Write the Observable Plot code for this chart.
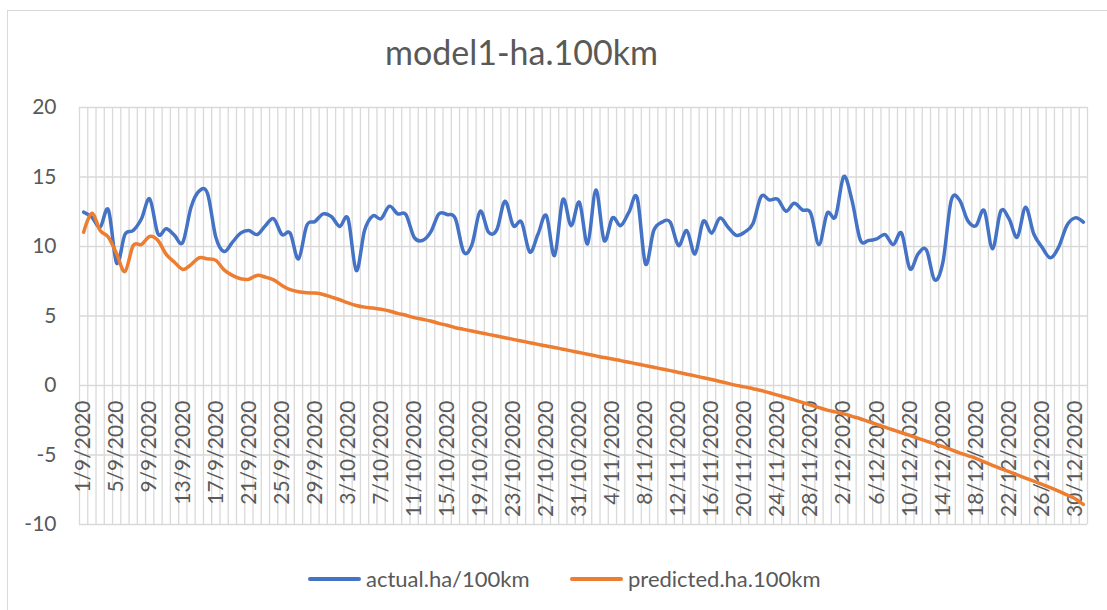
<!DOCTYPE html>
<html>
<head>
<meta charset="utf-8">
<script src="https://cdn.jsdelivr.net/npm/d3@7"></script>
<script src="https://cdn.jsdelivr.net/npm/@observablehq/plot@0.6"></script>
<style>
  html, body { margin: 0; padding: 0; overflow: hidden; background: #fff; }
  #wrap { position: relative; width: 1107px; height: 610px; overflow: hidden; font-family: Lato, "Open Sans", sans-serif; color: #595959; }
  #border { position: absolute; left: 7px; top: 10px; width: 1120px; height: 620px; border: 1px solid #d9d9d9; box-sizing: border-box; }
  #title { position: relative; height: 85px; }
  #title span { position: absolute; left: 385px; top: 31px; font-size: 34px; white-space: nowrap; }
  #chart { position: relative; height: 470px; }
  #legend { position: relative; height: 55px; }
  .item { position: absolute; top: 10px; display: flex; align-items: center; font-size: 22px; white-space: nowrap; }
  .swatch { display: inline-block; width: 53px; height: 4px; border-radius: 2px; margin-right: 5px; }
</style>
</head>
<body>
<div id="wrap">
  <div id="border"></div>
  <div id="title"><span>model1-ha.100km</span></div>
  <div id="chart"></div>
  <div id="legend"></div>
</div>
<script>
// ---- data ----
const seriesNames = ["actual.ha/100km", "predicted.ha.100km"];
const seriesColors = ["#4472C4", "#ED7D31"];

// daily categories 1/9/2020 .. 31/12/2020
const days = d3.utcDay.range(new Date(Date.UTC(2020, 8, 1)), new Date(Date.UTC(2021, 0, 1)));
const categories = days.map(d => `${d.getUTCDate()}/${d.getUTCMonth() + 1}/${d.getUTCFullYear()}`);

const tickLabels = ["1/9/2020","5/9/2020","9/9/2020","13/9/2020","17/9/2020","21/9/2020","25/9/2020","29/9/2020",
  "3/10/2020","7/10/2020","11/10/2020","15/10/2020","19/10/2020","23/10/2020","27/10/2020","31/10/2020",
  "4/11/2020","8/11/2020","12/11/2020","16/11/2020","20/11/2020","24/11/2020","28/11/2020",
  "2/12/2020","6/12/2020","10/12/2020","14/12/2020","18/12/2020","22/12/2020","26/12/2020","30/12/2020"];

const yTicks = [-10, -5, 0, 5, 10, 15, 20];

const actual = [
  12.47, 12.1, 11.4, 12.63, 8.8, 10.86, 11.15, 12.0, 13.42, 10.9,
  11.27, 10.8, 10.3, 12.83, 14.0, 13.8, 10.67, 9.64, 10.3, 10.96,
  11.15, 10.86, 11.5, 12.0, 10.86, 10.96, 9.1, 11.5, 11.8, 12.35,
  12.15, 11.44, 12.0, 8.27, 11.15, 12.2, 12.0, 12.9, 12.35, 12.3,
  10.67, 10.43, 11.03, 12.35, 12.3, 12.0, 9.6, 10.14, 12.54, 11.03,
  11.2, 13.26, 11.5, 11.75, 9.6, 10.9, 12.23, 9.35, 13.38, 11.5,
  13.18, 10.19, 14.07, 10.43, 12.06, 11.5, 12.47, 13.5, 8.75, 11.15,
  11.75, 11.75, 10.07, 11.15, 9.47, 11.82, 10.96, 12.04, 11.39, 10.8,
  11.03, 11.63, 13.6, 13.35, 13.4, 12.54, 13.11, 12.63, 12.4, 10.14,
  12.4, 12.15, 15.03, 13.3, 10.48, 10.43, 10.55, 10.86, 10.14, 10.96,
  8.4, 9.47, 9.76, 7.6, 8.87, 13.3, 13.35, 11.87, 11.5, 12.59,
  9.83, 12.54, 12.0, 10.67, 12.83, 10.9, 9.95, 9.19, 9.95, 11.5,
  12.06, 11.75
];

const predicted = [
  11.03, 12.4, 11.15, 10.67, 9.47, 8.2, 10.07, 10.14, 10.72, 10.43,
  9.43, 8.87, 8.35, 8.7, 9.19, 9.11, 9.0, 8.32, 7.92, 7.68,
  7.65, 7.92, 7.8, 7.6, 7.2, 6.89, 6.74, 6.67, 6.65, 6.55,
  6.36, 6.17, 5.95, 5.76, 5.64, 5.57, 5.48, 5.36, 5.19, 5.05,
  4.88, 4.76, 4.64, 4.47, 4.33, 4.16, 4.04, 3.92, 3.8, 3.68,
  3.56, 3.44, 3.32, 3.2, 3.08, 2.96, 2.84, 2.73, 2.61, 2.49,
  2.37, 2.25, 2.13, 2.01, 1.91, 1.79, 1.67, 1.55, 1.43, 1.31,
  1.19, 1.07, 0.94, 0.81, 0.69, 0.56, 0.43, 0.29, 0.15, 0.01,
  -0.1, -0.23, -0.36, -0.52, -0.69, -0.86, -1.03, -1.22, -1.41, -1.59,
  -1.77, -1.9, -2.04, -2.22, -2.39, -2.6, -2.8, -3.0, -3.2, -3.4,
  -3.59, -3.8, -4.0, -4.2, -4.4, -4.62, -4.84, -5.04, -5.24, -5.5,
  -5.75, -5.98, -6.2, -6.43, -6.66, -6.88, -7.11, -7.35, -7.6, -7.87,
  -8.14, -8.55
];

// ---- table built from arrays ----
const rows = categories.map((c, i) => ({i, label: c, actual: actual[i], predicted: predicted[i]}));
const boundaries = d3.range(categories.length + 1).map(k => k - 0.5);
const tickIdx = tickLabels.map(t => categories.indexOf(t));

const chart = Plot.plot({
  width: 1107,
  height: 470,
  marginTop: 22,
  marginBottom: 31,
  marginLeft: 79,
  marginRight: 20,
  style: {fontFamily: "Lato, 'Open Sans', sans-serif", fontSize: "21px", color: "#595959", background: "transparent", overflow: "visible"},
  x: {type: "linear", domain: [-0.5, categories.length - 0.5], axis: null},
  y: {domain: [-10, 20], axis: null},
  marks: [
    Plot.ruleX(boundaries, {x: d => d, y1: -10, y2: 20, stroke: "#d9d9d9", strokeWidth: 1.3}),
    Plot.ruleY(yTicks, {stroke: "#d9d9d9", strokeWidth: 1.3}),
    Plot.axisY({ticks: yTicks, tickFormat: d => String(d), tickSize: 0, tickPadding: 23, label: null, fontSize: 21, fill: "#595959"}),
    Plot.text(tickIdx, {x: d => d, y: 0, text: (d, j) => tickLabels[j], rotate: -90, textAnchor: "end", lineAnchor: "middle", dy: 15, fill: "#595959", fontSize: 21}),
    Plot.line(rows, {x: "i", y: "actual", curve: "cardinal", stroke: seriesColors[0], strokeWidth: 3.5, strokeLinecap: "round", strokeLinejoin: "round"}),
    Plot.line(rows, {x: "i", y: "predicted", curve: "cardinal", stroke: seriesColors[1], strokeWidth: 3.5, strokeLinecap: "round", strokeLinejoin: "round"})
  ]
});
document.getElementById("chart").appendChild(chart);

// legend
const legend = document.getElementById("legend");
const legendLeft = [308, 570];
seriesNames.forEach((name, k) => {
  const it = document.createElement("div");
  it.className = "item";
  it.style.left = legendLeft[k] + "px";
  const sw = document.createElement("span");
  sw.className = "swatch";
  sw.style.background = seriesColors[k];
  it.appendChild(sw);
  it.appendChild(document.createTextNode(name));
  legend.appendChild(it);
});
</script>
</body>
</html>
